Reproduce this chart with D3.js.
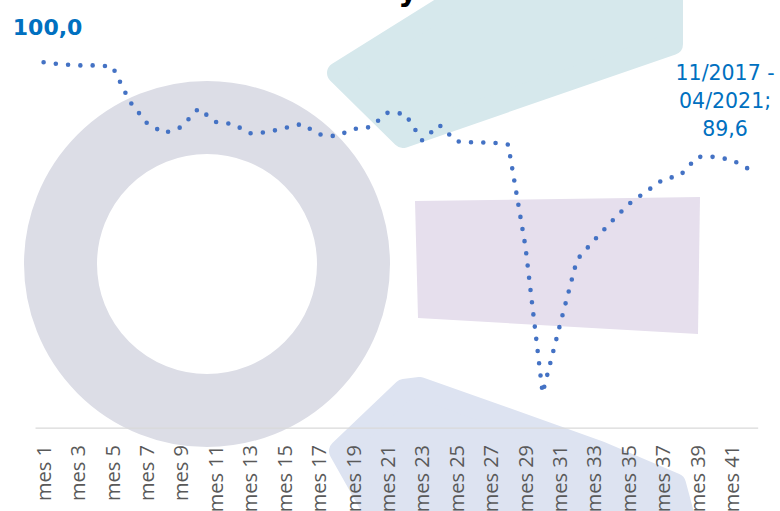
<!DOCTYPE html>
<html>
<head>
<meta charset="utf-8">
<script src="https://cdn.jsdelivr.net/npm/d3@7"></script>
<style>
  body { margin: 0; background: #ffffff; }
  svg { display: block; }
</style>
</head>
<body>
<div id="chart"></div>
<script>
// Monthly index, 11/2017 - 04/2021 (base mes 1 = 100)
const months = ["mes 1", "mes 2", "mes 3", "mes 4", "mes 5", "mes 6", "mes 7", "mes 8", "mes 9", "mes 10",
  "mes 11", "mes 12", "mes 13", "mes 14", "mes 15", "mes 16", "mes 17", "mes 18", "mes 19", "mes 20",
  "mes 21", "mes 22", "mes 23", "mes 24", "mes 25", "mes 26", "mes 27", "mes 28", "mes 29", "mes 30",
  "mes 31", "mes 32", "mes 33", "mes 34", "mes 35", "mes 36", "mes 37", "mes 38", "mes 39", "mes 40",
  "mes 41", "mes 42"];

const indexValues = [100.0, 99.8, 99.7, 99.7, 99.6, 96.2, 94.1, 93.1, 93.7, 95.5,
  94.2, 94.0, 93.1, 93.2, 93.6, 94.0, 93.0, 92.8, 93.5, 93.7,
  95.1, 95.0, 92.4, 93.9, 92.3, 92.2, 92.2, 92.0, 82.1, 67.8,
  74.4, 80.8, 82.7, 84.5, 86.2, 87.4, 88.6, 89.0, 90.8, 90.8,
  90.5, 89.6];

// only every second month is labelled on the axis
const tickLabels = ["mes 1", "mes 3", "mes 5", "mes 7", "mes 9", "mes 11", "mes 13", "mes 15", "mes 17",
  "mes 19", "mes 21", "mes 23", "mes 25", "mes 27", "mes 29", "mes 31", "mes 33", "mes 35", "mes 37",
  "mes 39", "mes 41"];

const seriesName = "11/2017 - 04/2021";
const firstLabel = "100,0";
const lastLabel = ["11/2017 -", "04/2021;", "89,6"];

const width = 780;
const height = 511;

const svg = d3.select("#chart")
    .append("svg")
    .attr("width", width)
    .attr("height", height);

svg.append("rect")
    .attr("width", width)
    .attr("height", height)
    .attr("fill", "#ffffff");

// Watermark shapes in the background
const bg = svg.append("g");

bg.append("circle")
    .attr("cx", 207)
    .attr("cy", 264)
    .attr("r", 146.5)
    .attr("fill", "none")
    .attr("stroke", "#dcdde6")
    .attr("stroke-width", 73);

// teal rounded block (top)
bg.append("polygon")
    .attr("points", "338,73 455,0 460,-30 672,-30 672,44 403,137")
    .attr("fill", "#d6e8ec")
    .attr("stroke", "#d6e8ec")
    .attr("stroke-width", 22)
    .attr("stroke-linejoin", "round");

// purple panel (middle right)
bg.append("polygon")
    .attr("points", "415,201 700,197 698,334 418,318")
    .attr("fill", "#e6dfed");

// blue rounded block (bottom)
bg.append("polygon")
    .attr("points", "404,390 420,388 600,452 675,484 690,540 390,540 340,451")
    .attr("fill", "#dde3f1")
    .attr("stroke", "#dde3f1")
    .attr("stroke-width", 22)
    .attr("stroke-linejoin", "round");

// partly hidden title above the frame
svg.append("text")
    .attr("x", 408)
    .attr("y", 1)
    .attr("text-anchor", "middle")
    .style("font-family", "DejaVu Sans")
    .style("font-size", "30px")
    .style("font-weight", "bold")
    .attr("fill", "#000000")
    .text("y");

// Scales
const x = d3.scaleBand()
    .domain(months)
    .range([35, 757.7])
    .paddingInner(0)
    .paddingOuter(0);

const y = d3.scaleLinear()
    .domain([64.45, 100])
    .range([427.7, 62.3]);

const cx = d => x(d) + x.bandwidth() / 2;

// Category axis
const xAxis = svg.append("g")
    .attr("transform", `translate(0,${y(64.45)})`)
    .call(d3.axisBottom(x).tickValues(tickLabels).tickSize(0).tickSizeOuter(0));

xAxis.select(".domain")
    .attr("stroke", "#d9d9d9")
    .attr("stroke-width", 1.3);

xAxis.selectAll("text")
    .attr("transform", "rotate(-90)")
    .attr("x", -17.3)
    .attr("y", 0)
    .attr("dy", "0.36em")
    .style("text-anchor", "end")
    .style("font-family", "'Open Sans'")
    .style("font-size", "20px")
    .attr("fill", "#595959");

// Dotted line
const points = months.map((m, i) => ({ month: m, value: indexValues[i] }));

const line = d3.line()
    .x(d => cx(d.month))
    .y(d => y(d.value));

svg.append("path")
    .datum(points)
    .attr("fill", "none")
    .attr("stroke", "#4472c4")
    .attr("stroke-width", 4.6)
    .attr("stroke-linecap", "round")
    .attr("stroke-dasharray", "0 12.3")
    .attr("d", line);

// Data labels (first and last point)
const first = points[0];
const last = points[points.length - 1];

svg.append("text")
    .attr("x", cx(first.month) + 4)
    .attr("y", y(first.value) - 27)
    .attr("text-anchor", "middle")
    .style("font-family", "DejaVu Sans")
    .style("font-size", "22px")
    .style("font-weight", "bold")
    .attr("fill", "#0070c0")
    .text(firstLabel);

const endLabel = svg.append("text")
    .attr("text-anchor", "middle")
    .style("font-family", "DejaVu Sans")
    .style("font-size", "20.5px")
    .attr("fill", "#0070c0");

endLabel.selectAll("tspan")
    .data(lastLabel)
    .enter()
    .append("tspan")
    .attr("x", cx(last.month) - 24)
    .attr("y", (d, i) => y(last.value) - 89 + i * 28)
    .text(d => d);

endLabel.append("title").text(seriesName);
</script>
</body>
</html>
